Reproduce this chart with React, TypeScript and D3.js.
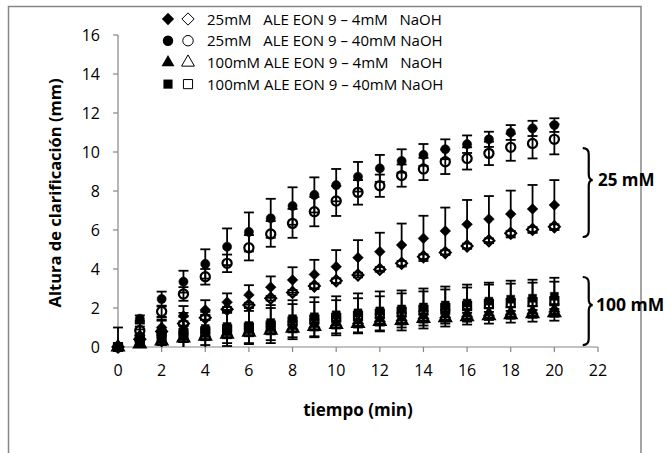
import * as d3 from "d3";

// tiempo (min)
const times = [0, 1, 2, 3, 4, 5, 6, 7, 8, 9, 10, 11, 12, 13, 14, 15, 16, 17, 18, 19, 20];

// 25mM ALE EON 9 – 4mM NaOH (filled / open diamonds)
const d25_4_a = [0, 0.6, 1.0, 1.6, 1.9, 2.3, 2.67, 3.07, 3.44, 3.72, 4.12, 4.58, 4.89, 5.23, 5.57, 5.95, 6.29, 6.56, 6.82, 7.08, 7.28];
const e25_4_a = [0, 0.3, 0.4, 0.5, 0.5, 0.45, 0.5, 0.55, 0.65, 0.75, 0.85, 0.9, 0.97, 1.1, 1.16, 1.2, 1.25, 1.18, 1.2, 1.23, 1.28];
const d25_4_b = [0, 0.4, 0.8, 1.2, 1.5, 1.93, 2.15, 2.5, 2.8, 3.13, 3.4, 3.69, 3.98, 4.29, 4.63, 4.84, 5.18, 5.45, 5.83, 6.03, 6.17];
const e25_4_b = [0, 0.1, 0.1, 0.12, 0.12, 0.12, 0.12, 0.12, 0.12, 0.12, 0.12, 0.12, 0.12, 0.12, 0.12, 0.12, 0.12, 0.12, 0.12, 0.12, 0.12];

// 25mM ALE EON 9 – 40mM NaOH (filled / open circles)
const d25_40_a = [0, 1.45, 2.46, 3.35, 4.26, 5.14, 5.9, 6.6, 7.23, 7.8, 8.3, 8.73, 9.16, 9.54, 9.85, 10.14, 10.4, 10.65, 11.0, 11.21, 11.38];
const e25_40_a = [0, 0.17, 0.38, 0.56, 0.75, 0.94, 1.0, 1.0, 0.96, 0.9, 0.83, 0.76, 0.69, 0.6, 0.56, 0.51, 0.45, 0.39, 0.38, 0.39, 0.35];
const d25_40_b = [0, 0.85, 1.82, 2.72, 3.6, 4.29, 5.09, 5.8, 6.34, 6.94, 7.49, 7.93, 8.27, 8.79, 9.13, 9.5, 9.67, 9.93, 10.24, 10.44, 10.65];
const e25_40_b = [0, 0.2, 0.3, 0.35, 0.4, 0.45, 0.65, 0.66, 0.74, 0.75, 0.77, 0.63, 0.57, 0.57, 0.57, 0.63, 0.57, 0.6, 0.69, 0.77, 0.77];

// 100mM ALE EON 9 – 4mM NaOH (filled / open triangles)
const d100_4_a = [0, 0.2, 0.35, 0.5, 0.65, 0.75, 0.85, 0.95, 1.05, 1.15, 1.25, 1.35, 1.45, 1.5, 1.6, 1.65, 1.7, 1.75, 1.8, 1.85, 1.95];
const e100_4_a = [0, 0.2, 0.25, 0.25, 0.25, 0.25, 0.25, 0.25, 0.25, 0.25, 0.25, 0.25, 0.25, 0.25, 0.25, 0.25, 0.25, 0.25, 0.25, 0.25, 0.25];
const d100_4_b = [0, 0.15, 0.3, 0.45, 0.55, 0.65, 0.75, 0.85, 0.95, 1.05, 1.15, 1.2, 1.3, 1.35, 1.45, 1.5, 1.55, 1.6, 1.65, 1.7, 1.75];
const e100_4_b = [0, 0.15, 0.2, 0.2, 0.2, 0.2, 0.2, 0.2, 0.2, 0.2, 0.2, 0.2, 0.2, 0.2, 0.2, 0.2, 0.2, 0.2, 0.2, 0.2, 0.2];

// 100mM ALE EON 9 – 40mM NaOH (filled / open squares)
const d100_40_a = [0, 0.45, 0.65, 0.85, 0.95, 1.05, 1.1, 1.25, 1.45, 1.55, 1.65, 1.75, 1.85, 1.95, 2.05, 2.15, 2.25, 2.35, 2.45, 2.5, 2.6];
const e100_40_a = [1.0, 0.9, 0.9, 0.9, 0.85, 0.85, 0.9, 0.9, 0.95, 1.0, 0.95, 1.0, 1.0, 0.95, 0.95, 0.95, 0.95, 0.95, 0.95, 0.95, 0.95];
const d100_40_b = [0, 0.35, 0.5, 0.7, 0.8, 0.9, 1.0, 1.1, 1.3, 1.4, 1.5, 1.6, 1.7, 1.8, 1.9, 2.0, 2.1, 2.2, 2.25, 2.3, 2.35];
const e100_40_b = [0, 0.85, 0.85, 0.85, 0.85, 0.85, 0.85, 0.9, 0.9, 0.9, 0.9, 0.9, 0.9, 0.95, 0.95, 0.95, 0.95, 1.0, 1.0, 1.0, 1.0];

const xTicks = [0, 2, 4, 6, 8, 10, 12, 14, 16, 18, 20, 22];
const yTicks = [0, 2, 4, 6, 8, 10, 12, 14, 16];

const legendLabels = [
  "25mM   ALE EON 9 – 4mM   NaOH",
  "25mM   ALE EON 9 – 40mM NaOH",
  "100mM ALE EON 9 – 4mM   NaOH",
  "100mM ALE EON 9 – 40mM NaOH",
];

// Excel-style diamond (a square turned 45°)
const symbolRhombus: d3.SymbolType = {
  draw(ctx, size) {
    const r = Math.sqrt(size / 2);
    ctx.moveTo(0, -r);
    ctx.lineTo(r, 0);
    ctx.lineTo(0, r);
    ctx.lineTo(-r, 0);
    ctx.closePath();
  },
};

const legendSymbols = [symbolRhombus, d3.symbolCircle, d3.symbolTriangle, d3.symbolSquare];

type Series = { values: number[]; errors: number[]; symbol: d3.SymbolType; filled: boolean };

const series: Series[] = [
  { values: d100_40_b, errors: e100_40_b, symbol: d3.symbolSquare, filled: false },
  { values: d100_40_a, errors: e100_40_a, symbol: d3.symbolSquare, filled: true },
  { values: d100_4_b, errors: e100_4_b, symbol: d3.symbolTriangle, filled: false },
  { values: d100_4_a, errors: e100_4_a, symbol: d3.symbolTriangle, filled: true },
  { values: d25_4_b, errors: e25_4_b, symbol: symbolRhombus, filled: false },
  { values: d25_4_a, errors: e25_4_a, symbol: symbolRhombus, filled: true },
  { values: d25_40_b, errors: e25_40_b, symbol: d3.symbolCircle, filled: false },
  { values: d25_40_a, errors: e25_40_a, symbol: d3.symbolCircle, filled: true },
];

const symbolSize = (s: d3.SymbolType) =>
  s === d3.symbolSquare ? 64 : s === d3.symbolCircle ? 66 : s === d3.symbolTriangle ? 56 : 58;

const font = "'Open Sans', sans-serif";
const axisColor = "#868686";

export default function App() {
  const width = 671;
  const height = 453;
  const x = d3.scaleLinear().domain([0, 22]).range([118, 598]);
  const y = d3.scaleLinear().domain([0, 16]).range([347, 35]);
  const sym = (s: d3.SymbolType, k = 1) => d3.symbol(s, symbolSize(s) * k)() || "";
  const cap = 5;

  const brace = (xb: number, top: number, bottom: number, tip: number) => {
    const w = 10;
    const r = 6;
    return `M${xb},${top} Q${xb + r},${top} ${xb + r},${top + r} L${xb + r},${tip - r} Q${xb + r},${tip} ${xb + w},${tip} Q${xb + r},${tip} ${xb + r},${tip + r} L${xb + r},${bottom - r} Q${xb + r},${bottom} ${xb},${bottom}`;
  };

  return (
    <svg width={width} height={height} style={{ position: "absolute", left: 0, top: 0 }}>
      <rect x={0} y={0} width={width} height={height} fill="#fff" />
      <rect x={8.5} y={6.5} width={632.5} height={450} fill="none" stroke={axisColor} strokeWidth={1.5} />
      <defs>
        <clipPath id="plotClip">
          <rect x={x(0) - 20} y={y(16)} width={x(22) - x(0) + 40} height={y(0) - y(16)} />
        </clipPath>
      </defs>

      {/* axes */}
      <line x1={x(0)} x2={x(22)} y1={y(0)} y2={y(0)} stroke={axisColor} strokeWidth={1.2} />
      <line x1={x(0)} x2={x(0)} y1={y(16)} y2={y(0)} stroke={axisColor} strokeWidth={1.2} />
      {xTicks.map((t) => (
        <g key={"xt" + t}>
          <line x1={x(t)} x2={x(t)} y1={y(0)} y2={y(0) + 5} stroke={axisColor} strokeWidth={1.2} />
          <text x={x(t)} y={y(0) + 29} textAnchor="middle" fontFamily={font} fontSize={16} fill="#000">
            {t}
          </text>
        </g>
      ))}
      {yTicks.map((t) => (
        <g key={"yt" + t}>
          <line x1={x(0) - 5} x2={x(0)} y1={y(t)} y2={y(t)} stroke={axisColor} strokeWidth={1.2} />
          <text x={x(0) - 18} y={y(t) + 6} textAnchor="end" fontFamily={font} fontSize={16} fill="#000">
            {t}
          </text>
        </g>
      ))}
      <text x={358} y={416} textAnchor="middle" fontFamily={font} fontWeight="bold" fontSize={17}>
        tiempo (min)
      </text>
      <text
        transform={`translate(61,${y(7.9)}) rotate(-90)`}
        textAnchor="middle"
        fontFamily={font}
        fontWeight="bold"
        fontSize={16.5}
      >
        Altura de clarificación (mm)
      </text>

      {/* error bars */}
      <g clipPath="url(#plotClip)" stroke="#000" strokeWidth={1.8}>
        {series.map((s, si) =>
          times.map((t, i) => {
            const e = s.errors[i];
            if (!e) return null;
            const v = s.values[i];
            return (
              <g key={`e${si}-${i}`}>
                <line x1={x(t)} x2={x(t)} y1={y(v + e)} y2={y(v - e)} />
                <line x1={x(t) - cap} x2={x(t) + cap} y1={y(v + e)} y2={y(v + e)} />
                <line x1={x(t) - cap} x2={x(t) + cap} y1={y(v - e)} y2={y(v - e)} />
              </g>
            );
          })
        )}
      </g>

      {/* markers */}
      {series.map((s, si) => (
        <g key={"s" + si}>
          {times.map((t, i) => (
            <path
              key={i}
              d={sym(s.symbol)}
              transform={`translate(${x(t)},${y(s.values[i])})`}
              fill={s.filled ? "#000" : "none"}
              stroke="#000"
              strokeWidth={s.filled ? 0.5 : 2.2}
            />
          ))}
        </g>
      ))}

      {/* legend */}
      {legendLabels.map((label, i) => {
        const ly = 19 + i * 21.7;
        return (
          <g key={"lg" + i}>
            <path d={sym(legendSymbols[i], 1.3)} transform={`translate(168,${ly})`} fill="#000" />
            <path
              d={sym(legendSymbols[i], 1.3)}
              transform={`translate(188,${ly})`}
              fill="#fff"
              stroke="#000"
              strokeWidth={1}
            />
            <text x={207} y={ly + 5.5} fontFamily={font} fontSize={15} style={{ whiteSpace: "pre" }}>
              {label}
            </text>
          </g>
        );
      })}

      {/* braces */}
      <path d={brace(x(21.3), y(10.2), y(5.64), y(8.56))} fill="none" stroke="#000" strokeWidth={2.2} />
      <text x={598} y={y(8.56) + 6} fontFamily={font} fontWeight="bold" fontSize={17}>
        25 mM
      </text>
      <path d={brace(x(21.3), y(3.59), y(0.1), y(2.15))} fill="none" stroke="#000" strokeWidth={2.2} />
      <text x={596} y={y(2.15) + 6} fontFamily={font} fontWeight="bold" fontSize={17.5}>
        100 mM
      </text>
    </svg>
  );
}
